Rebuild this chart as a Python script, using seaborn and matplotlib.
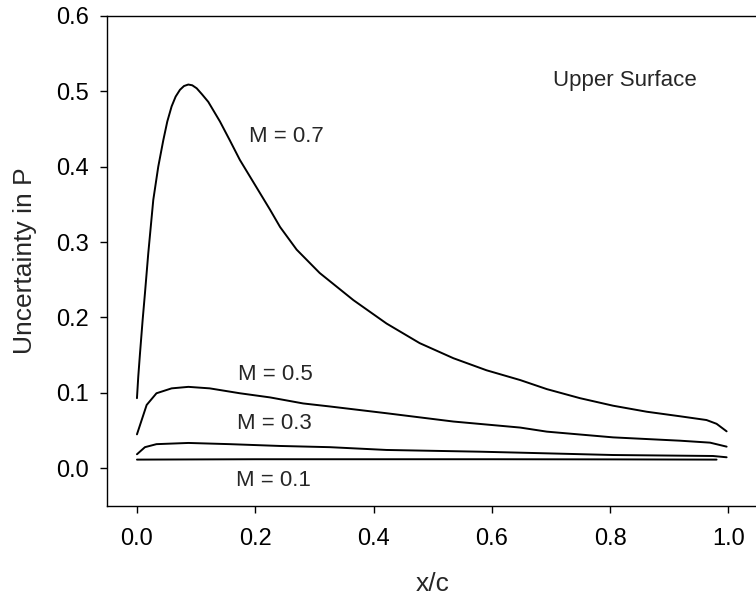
import numpy as np
import pandas as pd
import seaborn as sns
import matplotlib
matplotlib.use("Agg")
import matplotlib.pyplot as plt

# valeurs (x/c, incertitude)
x_m07 = [0.0, 0.0022, 0.0051, 0.0096, 0.0135, 0.0191, 0.0276, 0.036, 0.0445, 0.0513, 0.0586,
         0.0654, 0.0727, 0.0795, 0.0868, 0.0935, 0.101, 0.110, 0.1206, 0.1403, 0.157,
         0.174, 0.191, 0.208, 0.225, 0.242, 0.27, 0.309, 0.366, 0.422, 0.478, 0.535,
         0.591, 0.648, 0.693, 0.749, 0.805, 0.862, 0.918, 0.963, 0.98, 0.997]
y_m07 = [0.093, 0.1215, 0.152, 0.1967, 0.232, 0.285, 0.356, 0.40, 0.435, 0.46, 0.48,
         0.493, 0.502, 0.507, 0.509, 0.508, 0.504, 0.496, 0.486, 0.46, 0.435,
         0.409, 0.387, 0.365, 0.343, 0.320, 0.29, 0.259, 0.223, 0.192, 0.166, 0.146,
         0.130, 0.117, 0.105, 0.093, 0.083, 0.075, 0.069, 0.064, 0.059, 0.049]

x_m05 = [0.0, 0.0164, 0.033, 0.0586, 0.087, 0.123, 0.174, 0.225, 0.281, 0.326, 0.422,
         0.535, 0.648, 0.693, 0.805, 0.918, 0.969, 0.997]
y_m05 = [0.045, 0.084, 0.0995, 0.106, 0.108, 0.106, 0.0995, 0.094, 0.086, 0.082, 0.073,
         0.062, 0.054, 0.0486, 0.041, 0.0366, 0.034, 0.0287]

x_m03 = [0.0, 0.0135, 0.033, 0.087, 0.157, 0.242, 0.326, 0.422, 0.58, 0.648, 0.805,
         0.974, 0.997]
y_m03 = [0.0186, 0.028, 0.032, 0.0336, 0.032, 0.0296, 0.028, 0.0243, 0.022, 0.0207,
         0.0176, 0.0163, 0.0146]

x_m01 = [0.0, 0.2, 0.4, 0.6, 0.8, 0.98]
y_m01 = [0.0115, 0.012, 0.012, 0.012, 0.0118, 0.0115]

mach_labels = ["M = 0.1", "M = 0.3", "M = 0.5", "M = 0.7"]
label_x = [0.167, 0.169, 0.171, 0.19]
label_y = [-0.016, 0.06, 0.125, 0.44]

frames = []
for lab, xs, ys in zip(mach_labels, [x_m01, x_m03, x_m05, x_m07], [y_m01, y_m03, y_m05, y_m07]):
    frames.append(pd.DataFrame({"x": xs, "y": ys, "M": lab}))
df = pd.concat(frames, ignore_index=True)

sns.set_style("ticks")
plt.rcParams["font.family"] = ["Liberation Sans", "DejaVu Sans"]

fig = plt.figure(figsize=(7.56, 6.03), dpi=100)
ax = fig.add_axes([0.1415, 0.1609, 0.8611, 0.8127])

sns.lineplot(data=df, x="x", y="y", hue="M", units="M", estimator=None, sort=False,
             palette=["black"] * 4, linewidth=1.4, legend=False, ax=ax)

for lab, lx, ly in zip(mach_labels, label_x, label_y):
    ax.text(lx, ly, lab, fontsize=16, va="center", ha="left")
ax.text(0.704, 0.515, "Upper Surface", fontsize=16, va="center", ha="left")

ax.set_xlim(-0.0507, 1.05)
ax.set_ylim(-0.05, 0.6)
ax.set_xticks(np.arange(0, 1.01, 0.2))
ax.set_yticks(np.arange(0, 0.61, 0.1))
ax.set_xticklabels([f"{v:.1f}" for v in np.arange(0, 1.01, 0.2)])
ax.set_yticklabels([f"{v:.1f}" for v in np.arange(0, 0.61, 0.1)])
ax.tick_params(direction="out", length=5, width=1, labelsize=17, colors="black")
ax.tick_params(axis="x", pad=11)
ax.tick_params(axis="y", pad=8)
ax.set_xlabel("x/c", fontsize=19, labelpad=16)
ax.set_ylabel("Uncertainty in P", fontsize=19, labelpad=14)
for s in ax.spines.values():
    s.set_color("black")
    s.set_linewidth(1)
ax.spines["right"].set_visible(False)

fig.savefig("out.png", dpi=100)
